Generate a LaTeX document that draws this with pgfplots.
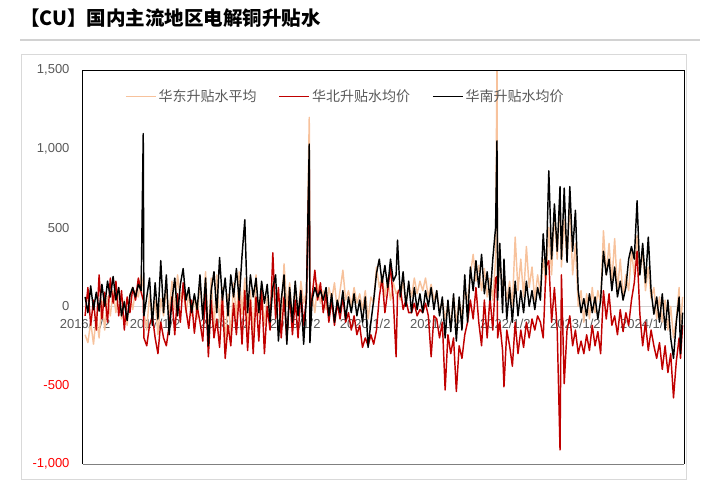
\documentclass[border=0pt]{standalone}
\usepackage{pgfplots}
\pgfplotsset{compat=1.18}
\usepackage{pgfplotstable}
\usepackage{fontspec}
\setmainfont{Liberation Sans}
\newfontfamily\cjk{Noto Sans CJK SC}
\definecolor{eastc}{RGB}{247,194,156}
\definecolor{northc}{RGB}{192,0,0}
\definecolor{txtgray}{RGB}{89,89,89}
\definecolor{negred}{RGB}{255,0,0}
\pgfplotstableread{
x e n s
2016.00 -180 -60 60
2016.04 -230 120 -40
2016.08 -100 -120 130
2016.12 -240 40 -20
2016.16 -60 -150 90
2016.20 -200 200 -30
2016.24 40 -80 140
2016.28 -150 90 0
2016.32 60 -100 160
2016.36 -60 180 60
2016.40 100 20 190
2016.44 -40 160 40
2016.48 120 -60 120
2016.52 -80 100 -60
2016.56 40 -150 30
2016.60 -120 60 -90
2016.64 80 -40 70
2016.68 -20 120 120
2016.72 100 40 60
2016.76 60 180 140
2016.80 200 90 100
2016.83 120 40 1096
2016.84 -40 -200 -60
2016.88 -150 -250 60
2016.92 80 -120 180
2016.96 -100 -60 -120
2017.00 40 -200 150
2017.04 -180 -300 -80
2017.08 50 -100 290
2017.12 -60 -200 -40
2017.16 100 -250 200
2017.20 -40 -120 -180
2017.24 160 60 40
2017.28 -20 -180 180
2017.32 200 80 -60
2017.36 40 -100 140
2017.40 120 150 240
2017.44 -40 -20 40
2017.48 80 -140 120
2017.52 -60 40 -40
2017.56 60 -170 80
2017.60 -80 0 -20
2017.64 150 -100 200
2017.68 -60 -220 -80
2017.72 220 100 180
2017.76 -200 -320 -250
2017.80 180 40 100
2017.84 -150 -200 220
2017.88 200 -80 -40
2017.92 -100 -260 310
2017.96 120 60 40
2018.00 -250 -330 180
2018.04 80 -120 -60
2018.08 -200 -250 200
2018.12 150 20 60
2018.16 -80 -180 240
2018.20 220 80 40
2018.24 -50 -240 320
2018.28 180 100 550
2018.32 -150 -280 -40
2018.36 100 40 200
2018.40 -180 -300 60
2018.44 200 60 180
2018.48 -60 -220 -40
2018.52 120 100 160
2018.56 -120 -300 20
2018.60 60 0 140
2018.64 -60 -150 -100
2018.68 150 340 120
2018.72 -40 -80 200
2018.76 80 120 -220
2018.80 -100 -200 40
2018.84 270 60 200
2018.88 0 -220 -240
2018.92 150 80 120
2018.96 -80 -180 -100
2019.00 120 40 160
2019.04 -60 -200 -60
2019.08 160 100 100
2019.12 20 -120 -240
2019.16 100 60 60
2019.20 1200 900 1030
2019.21 0 -100 -230
2019.24 80 60 40
2019.28 -40 230 120
2019.32 140 40 60
2019.36 20 150 100
2019.40 100 -40 40
2019.44 -20 80 120
2019.48 120 -100 -60
2019.52 40 40 80
2019.56 150 -120 -100
2019.60 -20 20 40
2019.64 100 -80 -40
2019.68 230 60 100
2019.72 40 -100 -80
2019.76 100 -40 60
2019.80 0 -150 -40
2019.84 120 -60 80
2019.88 20 -180 -60
2019.92 80 -120 40
2019.96 -20 -260 -100
2020.00 100 -200 60
2020.04 -80 -250 -260
2020.08 60 -180 -100
2020.12 20 -240 40
2020.16 250 -150 210
2020.20 120 60 300
2020.24 200 180 150
2020.28 60 -40 260
2020.32 180 100 120
2020.36 40 250 300
2020.40 150 40 160
2020.44 80 -320 200
2020.46 100 80 420
2020.50 40 120 60
2020.54 160 -20 220
2020.58 20 40 0
2020.62 140 -40 160
2020.66 60 -40 -40
2020.70 180 20 120
2020.74 80 -60 -20
2020.78 160 -20 80
2020.82 100 -40 -40
2020.86 180 20 100
2020.90 60 -60 0
2020.94 140 -320 120
2020.98 40 -60 -20
2021.02 100 -80 100
2021.06 -40 -200 -60
2021.10 40 -100 60
2021.14 -80 -530 -200
2021.18 20 -180 40
2021.22 -120 -300 -160
2021.26 60 -200 80
2021.30 -100 -540 -220
2021.34 40 -250 60
2021.38 -60 -330 -150
2021.42 100 -180 200
2021.46 40 -100 -100
2021.50 200 40 250
2021.54 330 -80 100
2021.58 160 120 290
2021.62 260 -100 120
2021.66 100 -250 330
2021.70 240 40 80
2021.74 60 -200 220
2021.78 180 60 40
2021.82 40 -150 300
2021.86 300 180 500
2021.88 1600 190 1050
2021.89 100 -200 40
2021.92 300 -100 400
2021.96 100 -280 -40
2021.98 200 -510 300
2022.02 40 -150 -80
2022.06 160 -250 120
2022.10 0 -380 -100
2022.14 440 -100 160
2022.18 100 -300 -60
2022.22 300 -150 100
2022.26 60 -260 -40
2022.30 380 -100 160
2022.34 120 -200 0
2022.38 250 -80 100
2022.42 40 -150 -20
2022.46 200 -60 120
2022.50 80 -100 40
2022.54 300 -200 460
2022.58 150 250 200
2022.62 500 290 860
2022.66 200 -100 300
2022.70 600 120 650
2022.74 300 -150 350
2022.78 700 -910 760
2022.80 250 200 300
2022.84 550 -490 750
2022.88 300 -150 280
2022.92 650 -60 760
2022.96 200 -250 350
2023.00 400 -150 610
2023.04 0 -300 100
2023.08 100 -220 -40
2023.12 -100 -300 50
2023.16 80 -180 -60
2023.20 -80 -280 80
2023.24 120 -120 -40
2023.28 -40 -250 60
2023.32 100 -160 -80
2023.36 20 -300 40
2023.40 480 100 350
2023.44 200 -80 200
2023.48 400 80 300
2023.52 150 -120 100
2023.56 430 -60 250
2023.60 100 -180 60
2023.64 300 -20 160
2023.68 60 -160 40
2023.72 200 -40 120
2023.76 100 -120 300
2023.80 350 40 380
2023.84 200 150 300
2023.88 450 350 670
2023.92 200 -50 200
2023.96 350 -250 400
2024.00 100 -100 150
2024.04 250 -280 440
2024.08 50 -150 100
2024.12 120 -250 -50
2024.16 -80 -330 60
2024.20 60 -230 -100
2024.24 -100 -400 80
2024.28 40 -250 -150
2024.32 -150 -420 40
2024.36 0 -300 -200
2024.40 -200 -580 -330
2024.44 -80 -350 -100
2024.48 120 -200 60
2024.50 -150 -330 -300
2024.53 60 -120 -40
}\datatable
\begin{document}
\begin{tikzpicture}
\useasboundingbox (0pt,0pt) rectangle (702pt,-490pt);
\node[anchor=west, inner sep=0pt, font=\cjk\bfseries\fontsize{19.5}{22}\selectfont] at (20pt,-18pt) {【CU】国内主流地区电解铜升贴水};
\draw[gray!35, line width=1.5pt] (20pt,-40pt) -- (700pt,-40pt);
\draw[gray!30, line width=0.8pt] (21pt,-54pt) rectangle (686pt,-479pt);
\begin{axis}[
  at={(83pt,-70pt)}, anchor=north west,
  scale only axis, width=601pt, height=394pt,
  xmin=2015.97, xmax=2024.55, ymin=-1000, ymax=1500,
  clip mode=individual,
  axis x line*=middle, axis y line*=left,
  x axis line style={gray!35, line width=1pt, -},
  y axis line style={draw=none},
  major tick length=0pt,
  xtick={2016,2017,2018,2019,2020,2021,2022,2023,2024},
  xticklabels={2016/1/2,2017/1/2,2018/1/2,2019/1/2,2020/1/2,2021/1/2,2022/1/2,2023/1/2,2024/1/2},
  ytick={-1000,-500,0,500,1000,1500},
  yticklabels={\textcolor{negred}{-1,000},\textcolor{negred}{-500},0,500,{1,000},{1,500}},
  /pgf/number format/assume math mode=true,
  ticklabel style={font=\fontsize{13}{15}\selectfont, text=txtgray},
  yticklabel style={xshift=-10pt},
  xticklabel style={yshift=-9pt},
  legend columns=3,
  legend style={at={(0.065,0.96)}, anchor=north west, draw=none, fill=none,
    font=\cjk\fontsize{14}{16}\selectfont, text=txtgray,
    /tikz/every even column/.append style={column sep=20pt}},
  legend image code/.code={\draw[#1] (0pt,0pt) -- (30pt,0pt);},
  every axis plot/.append style={line width=1.45pt, line join=round},
]
\addplot[eastc] table[x=x, y=e] {\datatable};
\addlegendentry{华东升贴水平均}
\addplot[northc] table[x=x, y=n] {\datatable};
\addlegendentry{华北升贴水均价}
\addplot[black] table[x=x, y=s] {\datatable};
\addlegendentry{华南升贴水均价}
\draw[black, line width=1pt] (rel axis cs:0,0) -- (rel axis cs:0,1) -- (rel axis cs:1,1) -- (rel axis cs:1,0);
\draw[gray, line width=1pt] (rel axis cs:0,0) -- (rel axis cs:1,0);
\end{axis}
\end{tikzpicture}
\end{document}
